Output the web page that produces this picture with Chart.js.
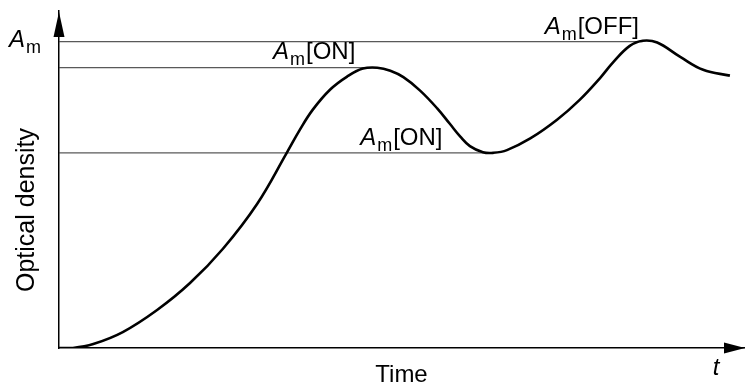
<!DOCTYPE html>
<html>
<head>
<meta charset="utf-8">
<script src="https://cdn.jsdelivr.net/npm/chart.js@4.4.1/dist/chart.umd.min.js"></script>
<style>
  html, body { margin: 0; padding: 0; background: #fff; }
  #wrap { width: 745px; height: 387px; }
</style>
</head>
<body>
<div id="wrap"><canvas id="odChart"></canvas></div>
<script>
// time (arbitrary units) and optical density
const timeValues = [0, 0.20, 0.50, 0.93, 1.43, 1.91, 2.39, 2.89, 3.32, 3.51, 3.70, 3.95,
    4.20, 4.43, 4.64, 4.83, 5.02, 5.26, 5.51, 5.70, 5.85, 5.99, 6.18, 6.33, 6.53, 6.87,
    7.26, 7.59, 7.89, 8.08, 8.32, 8.51, 8.72, 9.05, 9.39, 9.78];
const densityValues = [0, 0, 0.013, 0.052, 0.124, 0.212, 0.324, 0.471, 0.637, 0.712, 0.778, 0.843,
    0.886, 0.912, 0.915, 0.905, 0.884, 0.841, 0.783, 0.731, 0.690, 0.659, 0.639, 0.637, 0.646, 0.684,
    0.745, 0.810, 0.882, 0.933, 0.986, 1.003, 0.997, 0.951, 0.908, 0.889];

// reference levels and the time where the curve touches each one
const levelNames = ['A_m[OFF]', 'A_m[ON] max', 'A_m[ON] min'];
const levelValues = [1.0, 0.915, 0.637];
const levelEnds = [8.51, 4.64, 6.25];

const xTitle = 'Time';
const yTitle = 'Optical density';

const curve = timeValues.map((t, i) => ({ x: t, y: densityValues[i] }));

const levelSets = levelValues.map((v, i) => ({
    label: levelNames[i],
    data: [{ x: 0, y: v }, { x: levelEnds[i], y: v }],
    borderColor: 'rgba(60, 60, 60, 0.85)',
    borderWidth: 1.2,
    pointRadius: 0,
    tension: 0,
}));

const FONT = '"Liberation Sans", Arial, sans-serif';

// draws A + subscript m + rest, left aligned at x, baseline y
function drawAm(ctx, x, y, rest) {
    ctx.textAlign = 'left';
    ctx.textBaseline = 'alphabetic';
    ctx.font = 'italic 24px ' + FONT;
    ctx.fillText('A', x, y);
    const aw = ctx.measureText('A').width;
    ctx.font = '18px ' + FONT;
    ctx.fillText('m', x + aw + 1, y + 6);
    const mw = ctx.measureText('m').width;
    if (rest) {
        ctx.font = '24px ' + FONT;
        ctx.fillText(rest, x + aw + mw + 2, y);
    }
}

const decorations = {
    id: 'decorations',
    afterDraw(chart) {
        const ctx = chart.ctx;
        const xs = chart.scales.x;
        const ys = chart.scales.y;
        const x0 = xs.left, y0 = ys.bottom;
        ctx.save();
        ctx.fillStyle = '#000';

        // arrow heads on the axes
        ctx.beginPath();
        ctx.moveTo(x0, 12);
        ctx.lineTo(x0 - 5.5, 37);
        ctx.lineTo(x0 + 5.5, 37);
        ctx.closePath();
        ctx.fill();
        ctx.beginPath();
        ctx.moveTo(xs.right, y0);
        ctx.lineTo(xs.right - 21, y0 - 5.5);
        ctx.lineTo(xs.right - 21, y0 + 5.5);
        ctx.closePath();
        ctx.fill();

        // level labels
        const px = v => xs.getPixelForValue(v);
        const py = v => ys.getPixelForValue(v);
        drawAm(ctx, 9, py(levelValues[0]) + 5, '');
        drawAm(ctx, px(3.12), py(levelValues[1]) - 9, '[ON]');
        drawAm(ctx, px(4.39), py(levelValues[2]) - 8, '[ON]');
        drawAm(ctx, px(7.08), py(levelValues[0]) - 8, '[OFF]');

        // axis titles
        ctx.font = '24px ' + FONT;
        ctx.textAlign = 'center';
        ctx.fillText(xTitle, (xs.left + xs.right) / 2 - 0.5, 382);
        ctx.font = 'italic 24px ' + FONT;
        ctx.fillText('t', 716, 375);

        ctx.translate(34, 210);
        ctx.rotate(-Math.PI / 2);
        ctx.font = '25px ' + FONT;
        ctx.textAlign = 'center';
        ctx.fillText(yTitle, 0, 0);
        ctx.restore();
    }
};

new Chart(document.getElementById('odChart').getContext('2d'), {
    type: 'line',
    data: {
        datasets: [
            {
                label: 'Optical density',
                data: curve,
                borderColor: '#000',
                borderWidth: 2.6,
                pointRadius: 0,
                tension: 0.4,
                fill: false,
            },
            ...levelSets
        ],
    },
    options: {
        responsive: true,
        maintainAspectRatio: false,
        animation: false,
        layout: { padding: { left: 59, right: 0, top: 11, bottom: 39 } },
        plugins: {
            legend: { display: false },
            tooltip: { enabled: false },
        },
        scales: {
            x: {
                type: 'linear',
                min: 0,
                max: 10,
                ticks: { display: false },
                grid: { display: false, drawTicks: false },
                border: { display: true, color: '#000', width: 1.5 },
            },
            y: {
                type: 'linear',
                min: 0,
                max: 1.1,
                ticks: { display: false },
                grid: { display: false, drawTicks: false },
                border: { display: true, color: '#000', width: 1.5 },
            }
        },
    },
    plugins: [decorations],
});
</script>
</body>
</html>
